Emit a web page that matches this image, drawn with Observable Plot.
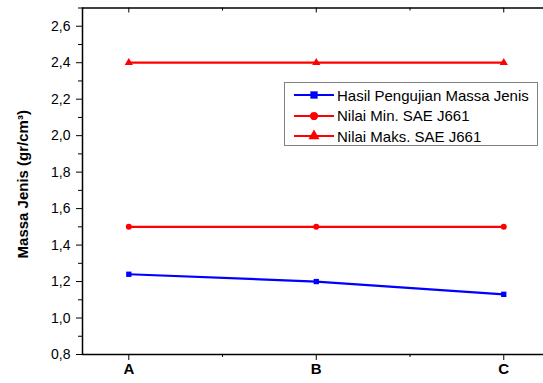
<!DOCTYPE html>
<html><head><meta charset="utf-8">
<script src="https://cdn.jsdelivr.net/npm/d3@7"></script>
<script src="https://cdn.jsdelivr.net/npm/@observablehq/plot@0.6"></script>
<style>
body{margin:0;background:#fff;}
#wrap{position:relative;width:543px;height:383px;overflow:hidden;font-family:Arial,"Liberation Sans",sans-serif;}
#legend{position:absolute;left:284px;top:82px;width:254px;height:64px;border:1px solid #808080;background:#fff;box-sizing:border-box;padding-top:2px;}
.row{display:flex;align-items:center;height:20.5px;font-size:15px;color:#000;white-space:nowrap;}
.row svg{margin-left:8px;margin-right:2px;}
</style></head>
<body><div id="wrap"><div id="chart"></div><div id="legend"></div></div>
<script>
const categories = ["A", "B", "C"];
const hasil = [1.24, 1.20, 1.13];
const minSAE = [1.5, 1.5, 1.5];
const maksSAE = [2.4, 2.4, 2.4];
const seriesNames = ["Hasil Pengujian Massa Jenis", "Nilai Min. SAE J661", "Nilai Maks. SAE J661"];
const seriesColors = ["#0000ff", "#ff0000", "#ff0000"];
const seriesSymbols = ["square", "circle", "triangle"];
const yTicks = [0.8, 1.0, 1.2, 1.4, 1.6, 1.8, 2.0, 2.2, 2.4, 2.6];
const yMinor = [0.9, 1.1, 1.3, 1.5, 1.7, 1.9, 2.1, 2.3, 2.5, 2.7];
const yLabel = "Massa Jenis (gr/cm³)";

const xPos = categories.map((c, i) => i + 1);
const xMinor = [1.5, 2.5];
const xDomain = [0.753, 3.212];
const yDomain = [0.8, 2.7];

const seriesValues = [hasil, minSAE, maksSAE];
const rows = [];
seriesValues.forEach((vals, s) => vals.forEach((v, i) => rows.push({x: xPos[i], y: v, s})));

const comma = d => d3.format(".1f")(d).replace(".", ",");
const font = "Arial, 'Liberation Sans', sans-serif";

const chart = Plot.plot({
  width: 543, height: 383,
  marginLeft: 82, marginRight: 0, marginTop: 7.5, marginBottom: 29,
  style: {fontFamily: font, color: "#000", background: "#fff"},
  x: {domain: xDomain},
  y: {domain: yDomain},
  marks: [
    Plot.axisY(yTicks, {tickSize: 6, tickFormat: () => "", label: null}),
    Plot.axisY(yMinor, {tickSize: 4, tickFormat: () => "", label: null}),
    Plot.axisX(xPos, {tickSize: 6, tickFormat: () => "", label: null}),
    Plot.axisX(xMinor, {tickSize: 3, tickFormat: () => "", label: null}),
    Plot.text(yTicks, {y: d => d, frameAnchor: "left", dx: -12, textAnchor: "end", fontSize: 14, fontFamily: font, text: comma}),
    Plot.text(xPos, {x: d => d, frameAnchor: "bottom", dy: 19.5, textAnchor: "middle", fontSize: 15, fontWeight: "bold", fontFamily: font, text: d => categories[d - 1]}),
    Plot.ruleX(xPos, {x: d => d, y1: yDomain[1], y2: yDomain[1], insetBottom: -5, strokeWidth: 1}),
    Plot.ruleX(xMinor, {x: d => d, y1: yDomain[1], y2: yDomain[1], insetBottom: -3, strokeWidth: 1}),
    Plot.ruleY(yDomain, {strokeWidth: 1.5}),
    Plot.ruleX([xDomain[0]], {strokeWidth: 1.5}),
    Plot.line(rows, {x: "x", y: "y", z: "s", stroke: d => seriesColors[d.s], strokeWidth: 2.2}),
    Plot.dot(rows, {x: "x", y: "y", fill: d => seriesColors[d.s], stroke: null,
      symbol: d => seriesSymbols[d.s], r: d => [4.2, 4.2, 4.4][d.s]}),
    Plot.text([yLabel], {frameAnchor: "left", dx: -59, dy: 3, rotate: -90, textAnchor: "middle", fontSize: 15, fontWeight: "bold", fontFamily: font, text: d => d})
  ]
});
document.getElementById("chart").appendChild(chart);

// legend
const leg = d3.select("#legend");
seriesNames.forEach((name, s) => {
  const row = leg.append("div").attr("class", "row");
  const svg = row.append("svg").attr("width", 42).attr("height", 20);
  svg.append("line").attr("x1", 1).attr("x2", 41).attr("y1", 10).attr("y2", 10)
    .attr("stroke", seriesColors[s]).attr("stroke-width", 2.2);
  const sym = {square: d3.symbolSquare, circle: d3.symbolCircle, triangle: d3.symbolTriangle}[seriesSymbols[s]];
  svg.append("path").attr("transform", "translate(21,10)")
    .attr("d", d3.symbol(sym, Math.PI * 17)()).attr("fill", seriesColors[s]);
  row.append("span").text(name);
});
</script></body></html>
